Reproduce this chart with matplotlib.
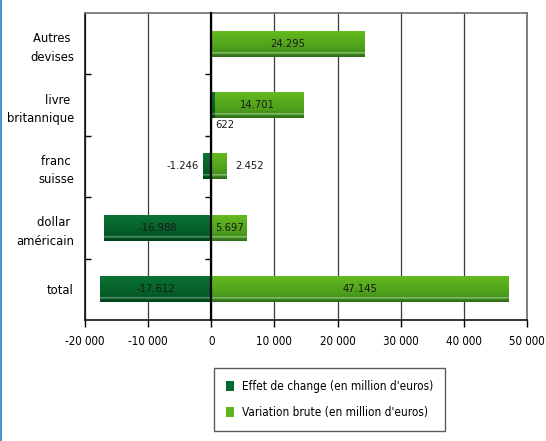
import matplotlib
matplotlib.use("Agg")
import matplotlib.pyplot as plt
import matplotlib.patches as patches
from matplotlib.ticker import FuncFormatter
import numpy as np

plt.rcParams["font.family"] = ["DejaVu Sans"]
plt.rcParams["font.stretch"] = "condensed"

categories = ["Autres \ndevises", "livre \nbritannique", "franc \nsuisse", "dollar \naméricain", "total"]
effet_change = [np.nan, 622, -1246, -16988, -17612]
variation_brute = [24295, 14701, 2452, 5697, 47145]
x_ticks = [-20000, -10000, 0, 10000, 20000, 30000, 40000, 50000]

light_stops = [(0.0, "#64ba1e"), (0.72, "#4c9c1c"), (0.80, "#3f8a1c"),
               (0.84, "#a8d888"), (0.89, "#3c841d"), (1.0, "#2e6a18")]
dark_stops = [(0.0, "#0b7234"), (0.72, "#045c27"), (0.80, "#02541f"),
              (0.84, "#6fa888"), (0.89, "#02501e"), (1.0, "#00421a")]


def gradient(stops, n=80):
    pos = np.linspace(0, 1, n)
    cols = np.array([matplotlib.colors.to_rgb(c) for _, c in stops])
    at = [p for p, _ in stops]
    rgb = np.stack([np.interp(pos, at, cols[:, k]) for k in range(3)], axis=-1)
    return rgb[:, None, :]


def fmt_value(v):
    return f"{int(v):,}".replace(",", ".")


fig = plt.figure(figsize=(5.46, 4.41), dpi=100)
ax = fig.add_axes([0.1557, 0.2744, 0.8093, 0.6961])

ypos = np.arange(len(categories))[::-1]
bar_h = 0.42

light_bars = ax.barh(ypos, variation_brute, height=bar_h, color="none", zorder=2)
dark_bars = ax.barh(ypos, np.nan_to_num(effet_change), height=bar_h, color="none", zorder=3)

for bars, stops, z in ((light_bars, light_stops, 2), (dark_bars, dark_stops, 3)):
    img = gradient(stops)
    for r in bars:
        if r.get_width() == 0:
            continue
        x0, y0 = r.get_x(), r.get_y()
        x1, y1 = x0 + r.get_width(), y0 + r.get_height()
        ax.imshow(img, extent=(min(x0, x1), max(x0, x1), y0, y1), origin="upper",
                  aspect="auto", interpolation="bilinear", zorder=z)

# value labels
lab_kw = dict(fontsize=8, color="#1a1a1a", va="center", zorder=5)
for y, v in zip(ypos, variation_brute):
    if abs(v) > 5000:
        ax.text(v / 2, y, fmt_value(v), ha="center", **lab_kw)
    else:
        ax.text(v + 1300, y, fmt_value(v), ha="left", **lab_kw)
for y, v, w in zip(ypos, effet_change, variation_brute):
    if np.isnan(v):
        continue
    if abs(v) > 5000:
        ax.text(v / 2, y, fmt_value(v), ha="center", **lab_kw)
    elif v > 0 and w > 0:
        ax.text(v, y - bar_h / 2 - 0.04, fmt_value(v), ha="left", va="top",
                fontsize=8, color="#1a1a1a", zorder=5)
    else:
        ax.text(v - 800, y, fmt_value(v), ha="right", **lab_kw)

ax.set_xlim(-20000, 50000)
ax.set_ylim(-0.5, len(categories) - 0.5)
ax.set_xticks(x_ticks)
ax.xaxis.set_major_formatter(FuncFormatter(lambda v, p: f"{int(v):,}".replace(",", " ")))
ax.set_yticks(ypos)
ax.set_yticklabels(categories, fontsize=9.3, ha="right", multialignment="right",
                   linespacing=1.55)
ax.set_yticks(np.arange(len(categories) - 1) + 0.5, minor=True)
ax.tick_params(axis="y", which="major", length=0, pad=8)
ax.tick_params(axis="y", which="minor", direction="in", length=4, width=1)
ax.tick_params(axis="x", direction="out", length=5, width=1, labelsize=8.3, pad=6)

ax.set_axisbelow(True)
ax.xaxis.grid(True, color="#3a3a3a", linewidth=0.9)
for side in ("top", "right"):
    ax.spines[side].set_color("#777777")
    ax.spines[side].set_linewidth(1.3)
for side in ("left", "bottom"):
    ax.spines[side].set_color("#111111")
    ax.spines[side].set_linewidth(1.2)

# vertical axis drawn at zero, with category separators
zax = ax.twinx()
zax.set_ylim(ax.get_ylim())
for side in ("top", "right", "bottom"):
    zax.spines[side].set_visible(False)
zax.spines["left"].set_position(("data", 0))
zax.spines["left"].set_color("#000000")
zax.spines["left"].set_linewidth(1.6)
zax.spines["left"].set_zorder(6)
zax.yaxis.set_ticks_position("left")
zax.set_yticks(np.arange(len(categories) - 1) + 0.5)
zax.set_yticklabels([])
zax.tick_params(axis="y", direction="out", length=4, width=1)

handles = [patches.Patch(facecolor="#006a30", edgecolor="none"),
           patches.Patch(facecolor="#5cb41c", edgecolor="none")]
leg = fig.legend(handles, ["Effet de change (en million d'euros)",
                           "Variation brute (en million d'euros)"],
                 loc="center", bbox_to_anchor=(0.6035, 0.094), fontsize=8.5,
                 frameon=True, fancybox=False, edgecolor="#333333",
                 handlelength=0.7, handleheight=1.0, handletextpad=0.6,
                 borderpad=1.0, labelspacing=1.1, borderaxespad=0)
leg.get_frame().set_linewidth(1.0)

fig.add_artist(patches.Rectangle((0, 0), 0.004, 1, transform=fig.transFigure,
                                 facecolor="#4a97cc", edgecolor="none"))

fig.savefig("out.png", dpi=100)
